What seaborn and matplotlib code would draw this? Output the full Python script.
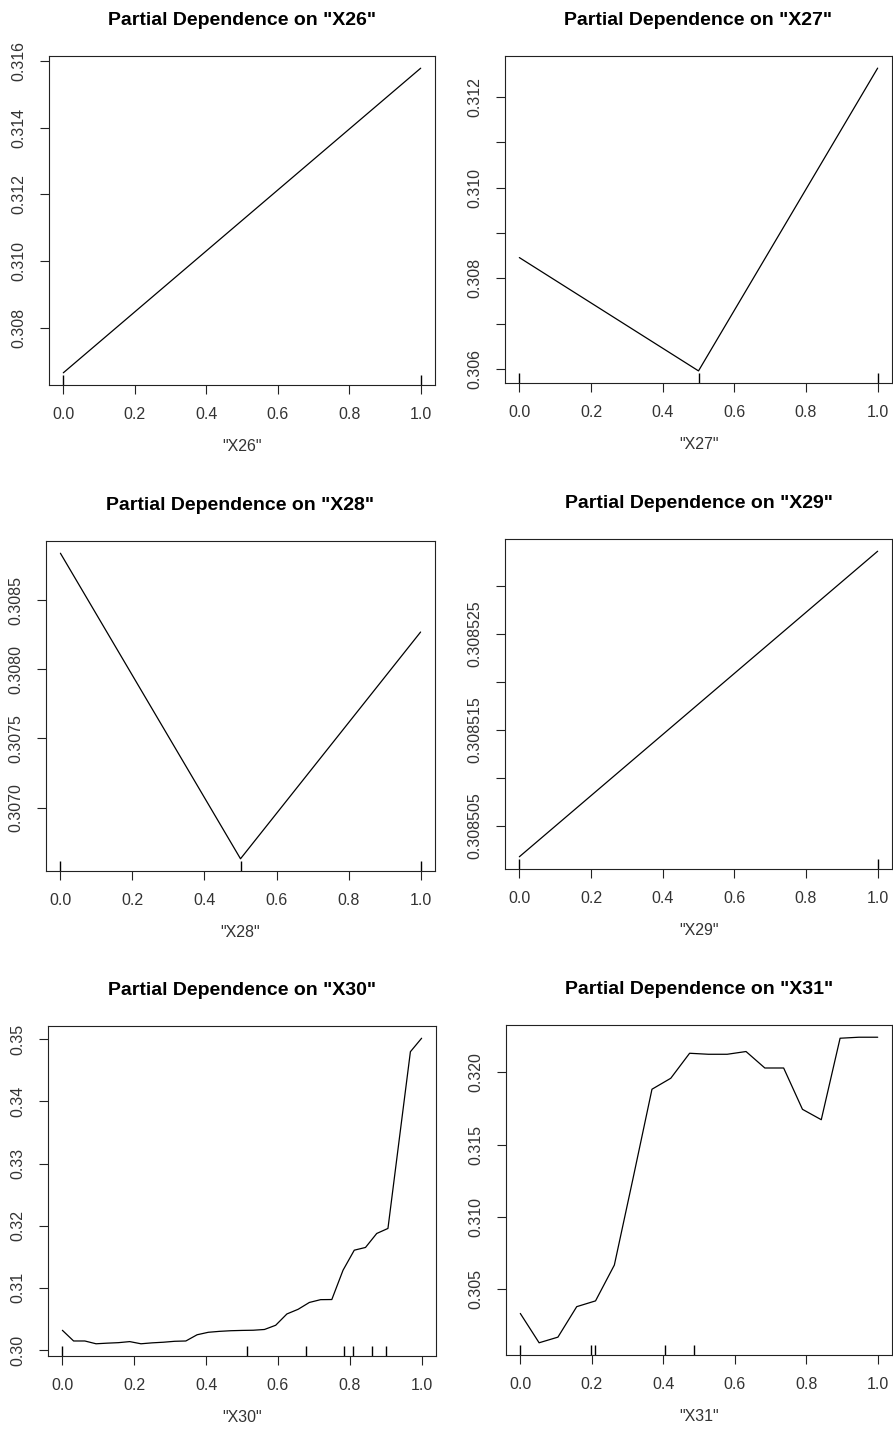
import numpy as np
import pandas as pd
import matplotlib
matplotlib.use("Agg")
import matplotlib.pyplot as plt
import seaborn as sns

sns.set_style("white")
plt.rcParams['font.family'] = ['Liberation Sans', 'DejaVu Sans']

# ---- partial dependence curves ----
x26 = [0.0, 1.0]
y26 = [0.30665, 0.31578]
rug26 = [0.0, 1.0]

x27 = [0.0, 0.5, 1.0]
y27 = [0.30846, 0.30596, 0.31264]
rug27 = [0.0, 0.5, 1.0]

x28 = [0.0, 0.5, 1.0]
y28 = [0.30884, 0.30663, 0.30827]
rug28 = [0.0, 0.5, 1.0]

x29 = [0.0, 1.0]
y29 = [0.3085018, 0.3085336]
rug29 = [0.0, 1.0]

x30 = [k / 32 for k in range(33)]
y30 = [0.30317, 0.30145, 0.30145, 0.30100, 0.30110, 0.30118, 0.30135, 0.30100,
       0.30115, 0.30125, 0.30140, 0.30145, 0.30245, 0.30285, 0.30300, 0.30310,
       0.30315, 0.30318, 0.30330, 0.30398, 0.30580, 0.30655, 0.30765, 0.30810,
       0.30812, 0.31284, 0.31606, 0.31650, 0.31875, 0.31956, 0.33380, 0.34800,
       0.35017]
rug30 = [0.0, 0.515, 0.677, 0.785, 0.808, 0.861, 0.900]

x31 = [k / 19 for k in range(20)]
y31 = [0.30331, 0.30128, 0.30167, 0.30378, 0.30418, 0.30666, 0.31270, 0.31883,
       0.31959, 0.32132, 0.32125, 0.32125, 0.32144, 0.32030, 0.32030, 0.31744,
       0.31672, 0.32236, 0.32243, 0.32243]
rug31 = [0.0, 0.197, 0.210, 0.406, 0.485]

features = ['"X26"', '"X27"', '"X28"', '"X29"', '"X30"', '"X31"']

# y ticks: (all tick positions, labelled subset, label format)
yticks = [
    ([0.308, 0.310, 0.312, 0.314, 0.316], None, "{:.3f}"),
    ([0.306, 0.307, 0.308, 0.309, 0.310, 0.311, 0.312], [0.306, 0.308, 0.310, 0.312], "{:.3f}"),
    ([0.3070, 0.3075, 0.3080, 0.3085], None, "{:.4f}"),
    ([0.308505, 0.308510, 0.308515, 0.308520, 0.308525, 0.308530],
     [0.308505, 0.308515, 0.308525], "{:.6f}"),
    ([0.30, 0.31, 0.32, 0.33, 0.34, 0.35], None, "{:.2f}"),
    ([0.305, 0.310, 0.315, 0.320], None, "{:.3f}"),
]
xticks = [0.0, 0.2, 0.4, 0.6, 0.8, 1.0]

series = [(x26, y26, rug26), (x27, y27, rug27), (x28, y28, rug28),
          (x29, y29, rug29), (x30, y30, rug30), (x31, y31, rug31)]

# panel boxes in pixels: left, top, right, bottom
W, H = 893, 1437
boxes = [(49, 56, 435, 385), (505, 56, 892, 383),
         (46, 541, 435, 871), (505, 539, 892, 869),
         (48, 1026, 436, 1356), (506, 1025, 892, 1355)]

fig = plt.figure(figsize=(W / 100, H / 100), dpi=100)
fig.patch.set_facecolor("white")

for (xs, ys, rug), feat, (ticks, labelled, fmt), (l, t, r, b) in zip(series, features, yticks, boxes):
    ax = fig.add_axes([l / W, 1 - b / H, (r - l) / W, (b - t) / H])
    df = pd.DataFrame({"x": xs, "y": ys})
    sns.lineplot(data=df, x="x", y="y", ax=ax, color="black", lw=0.9,
                 estimator=None, sort=False)
    sns.rugplot(x=rug, ax=ax, height=0.03, color="black", lw=0.9)

    ax.set_xlim(-0.04, 1.04)
    lo, hi = min(ys), max(ys)
    ext = (hi - lo) * 0.04
    ax.set_ylim(lo - ext, hi + ext)

    ax.set_xticks(xticks)
    ax.set_xticklabels([f"{v:.1f}" for v in xticks])
    ax.set_yticks(ticks)
    shown = ticks if labelled is None else labelled
    ax.set_yticklabels([fmt.format(v) if any(abs(v - s) < 1e-9 for s in shown) else ""
                        for v in ticks], rotation=90, va="center")

    ax.tick_params(axis="both", which="major", bottom=True, left=True,
                   top=False, right=False, direction="out", length=6.5, width=0.8,
                   color="#222222", labelsize=11.5, labelcolor="#333333", pad=9.5)
    for sp in ax.spines.values():
        sp.set_visible(True)
        sp.set_color("#222222")
        sp.set_linewidth(0.8)

    ax.set_xlabel(feat, fontsize=11.5, color="#333333", labelpad=12)
    ax.set_ylabel("")
    ax.set_title(f"Partial Dependence on {feat}", fontsize=14, fontweight="bold",
                 color="black", pad=22)

fig.savefig("out.png", dpi=100, facecolor="white")
